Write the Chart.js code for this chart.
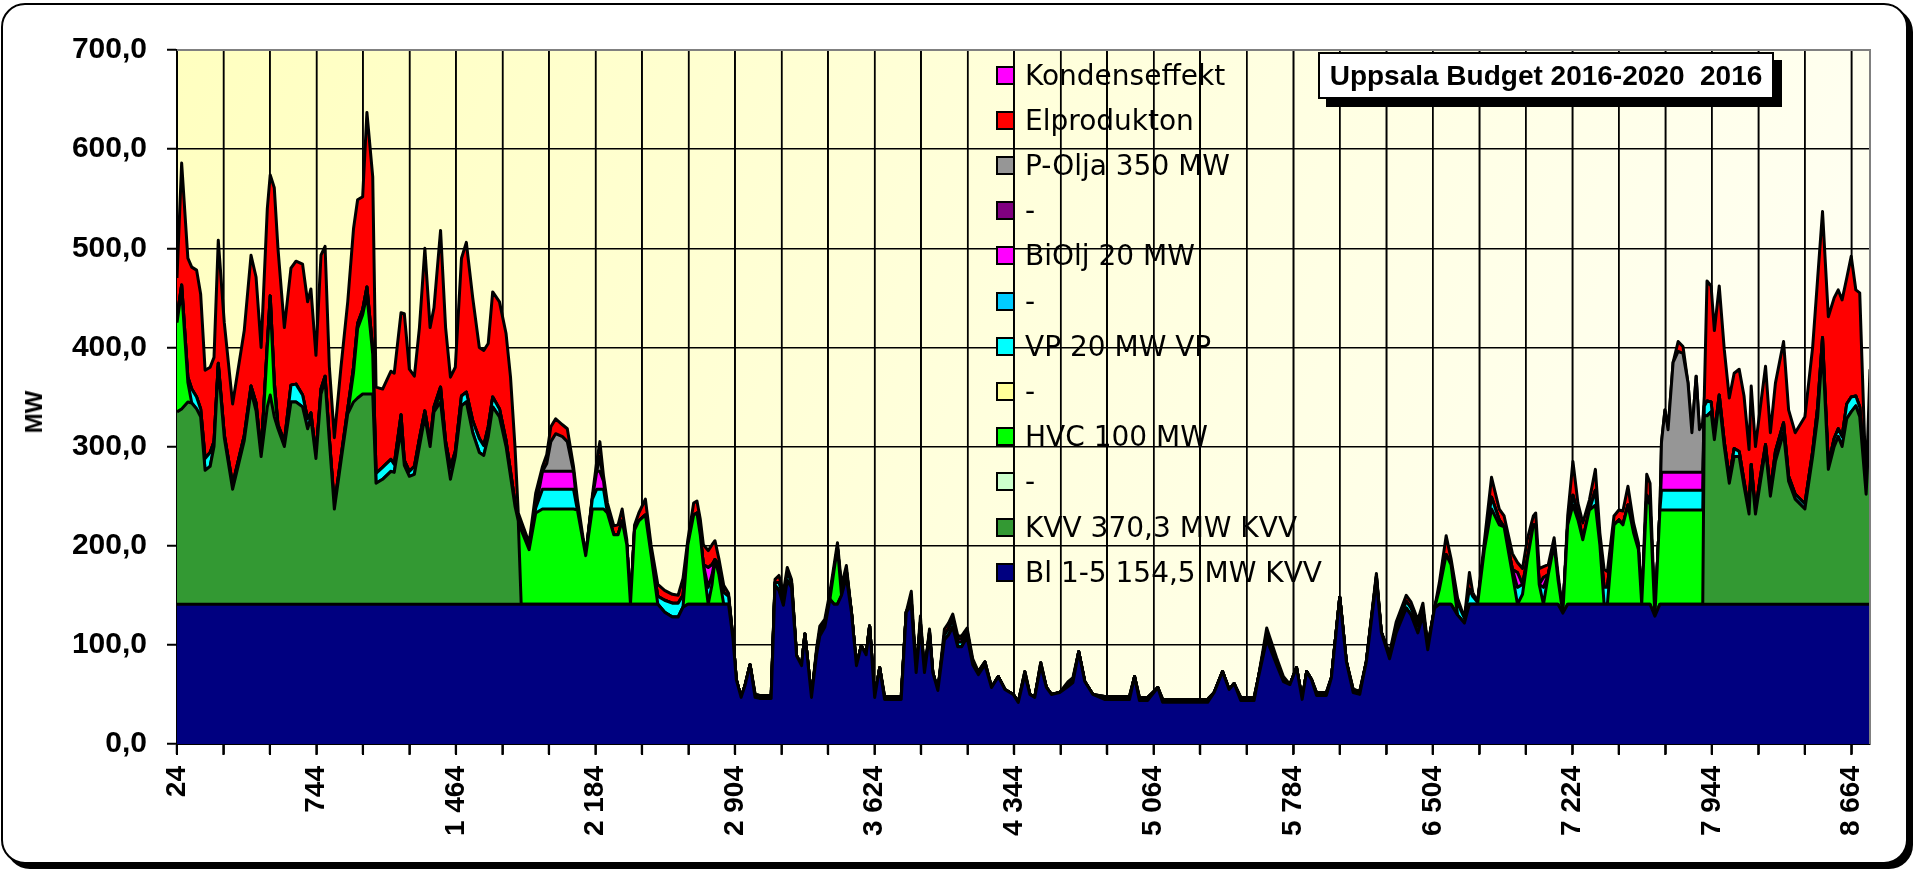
<!DOCTYPE html>
<html><head><meta charset="utf-8">
<script src="https://cdn.jsdelivr.net/npm/chart.js@4.4.1/dist/chart.umd.min.js"></script>
<style>
html,body{margin:0;padding:0;background:#fff;width:1915px;height:870px;overflow:hidden;}
#frame{position:absolute;left:1px;top:3px;width:1903px;height:857px;border:2px solid #000;border-radius:24px;box-shadow:5px 5px 0 #000;background:#fff;}
#c{position:absolute;left:0;top:0;}
#legend{position:absolute;left:996px;top:0;}
.li{position:absolute;left:0;display:flex;align-items:center;height:40px;white-space:nowrap;font:28px "DejaVu Sans";color:#000;}
.sw{display:inline-block;width:19px;height:19px;box-sizing:border-box;border:2px solid #000;margin-right:10px;}
#title{position:absolute;left:1318px;top:52px;width:456px;height:47px;box-sizing:border-box;border:2px solid #000;background:#fff;box-shadow:8px 8px 0 #000;font:bold 28px "Liberation Sans";text-align:center;line-height:43px;white-space:pre;color:#000;}
#ytitle{position:absolute;left:34px;top:412px;transform:translate(-50%,-50%) rotate(-90deg);font:bold 24px "Liberation Sans";color:#000;white-space:nowrap;}
</style></head>
<body>
<div id="frame"></div>
<canvas id="c" width="1915" height="870"></canvas>
<div id="legend"></div>
<div id="title">Uppsala Budget 2016-2020  2016</div>
<div id="ytitle">MW</div>
<script>
// ---- tick labels ----
const gridHours = [24,264,504,744,984,1224,1464,1704,1944,2184,2424,2664,2904,3144,3384,3624,3864,4104,4344,4584,4824,5064,5304,5544,5784,6024,6264,6504,6744,6984,7224,7464,7704,7944,8184,8424,8664];
const labelHours = [24,744,1464,2184,2904,3624,4344,5064,5784,6504,7224,7944,8664];
const yTicks = [0,100,200,300,400,500,600,700];

// ---- legend (top to bottom as in the reference) ----
const legendNames = ['Kondenseffekt','Elprodukton','P-Olja 350 MW','-','BiOlj 20 MW','-','VP 20 MW VP','-','HVC 100 MW','-','KVV 370,3 MW KVV','Bl 1-5 154,5 MW KVV'];
const legendColors = ['#FF00FF','#FF0000','#969696','#800080','#FF00FF','#00CCFF','#00FFFF','#FFFF99','#00FF00','#CCFFCC','#339933','#000080'];

// ---- hours (x positions of readings) ----
const hours = [24,48,80,100,125,146,169,195,215,237,
268,311,371,406,432,458,490,505,526,545,
578,612,638,672,698,715,741,767,788,810,
836,870,905,935,956,982,1004,1034,1051,1085,
1128,1145,1180,1197,1223,1249,1275,1303,1330,1350,
1384,1410,1435,1460,1492,1517,1550,1584,1607,1630,
1653,1688,1722,1745,1768,1785,1800,1841,1875,1910,
1932,1953,1978,2013,2038,2070,2090,2133,2167,2190,
2206,2225,2245,2278,2300,2321,2345,2364,2385,2407,
2441,2470,2505,2540,2580,2610,2635,2660,2690,2707,
2724,2740,2765,2785,2800,2820,2845,2870,2893,2910,
2935,2955,2981,3007,3030,3090,3110,3130,3153,3173,
3195,3221,3247,3264,3281,3298,3324,3341,3367,3393,
3415,3432,3453,3478,3504,3530,3555,3580,3598,3624,
3650,3675,3761,3787,3813,3838,3860,3881,3907,3924,
3950,3984,4005,4027,4053,4073,4101,4130,4159,4193,
4227,4262,4296,4339,4365,4399,4425,4450,4481,4510,
4536,4579,4622,4647,4677,4708,4750,4810,4939,4965,
4990,5033,5085,5110,5153,5342,5376,5419,5453,5479,
5513,5582,5604,5647,5664,5698,5733,5767,5801,5830,
5853,5878,5904,5955,5981,6024,6058,6093,6127,6161,
6213,6238,6281,6315,6367,6392,6427,6453,6478,6513,
6538,6573,6598,6632,6667,6693,6710,6735,6770,6807,
6847,6872,6915,6941,6967,6992,7023,7035,7053,7075,
7100,7130,7150,7175,7200,7227,7253,7278,7312,7343,
7366,7388,7405,7439,7464,7485,7511,7540,7565,7582,
7608,7625,7650,7676,7684,7702,7718,7744,7770,7795,
7821,7841,7863,7880,7897,7905,7919,7940,7957,7982,
8008,8034,8059,8085,8110,8136,8147,8169,8195,8221,
8246,8272,8314,8340,8374,8424,8464,8490,8515,8545,
8575,8596,8616,8640,8663,8687,8707,8740,8760];

// ---- series values (MW) ----
const blValues = [141,141,141,141,141,141,141,141,141,141,
141,141,141,141,141,141,141,141,141,141,
141,141,141,141,141,141,141,141,141,141,
141,141,141,141,141,141,141,141,141,141,
141,141,141,141,141,141,141,141,141,141,
141,141,141,141,141,141,141,141,141,141,
141,141,141,141,141,141,141,141,141,141,
141,141,141,141,141,141,141,141,141,141,
141,141,141,141,141,141,141,141,141,141,
141,141,141,133,128,128,138,141,141,141,
141,141,141,141,141,141,141,141,106,65,
47,59,80,47,46,46,160,155,140,165,
158,89,79,111,79,47,90,109,118,146,
141,141,150,168,133,79,99,90,119,47,
77,45,45,133,140,72,118,72,110,72,
54,105,110,118,98,98,108,80,70,80,
57,68,55,50,42,70,50,47,79,57,
50,52,58,62,93,63,50,45,45,68,
44,44,57,42,42,42,52,73,55,61,
44,44,67,105,97,80,63,60,77,45,
73,65,49,49,67,148,83,52,50,83,
165,113,86,112,137,130,112,130,95,137,
141,141,141,130,122,141,141,141,141,141,
141,141,141,141,141,141,141,141,141,141,
141,141,141,132,141,141,141,141,141,141,
141,141,141,141,141,141,141,141,141,141,
141,141,129,141,141,141,141,141,141,141,
141,141,141,141,141,141,141,141,141,141,
141,141,141,141,141,141,141,141,141,141,
141,141,141,141,141,141,141,141,141,141,
141,141,141,141,141,141,141,141,141];

const kvvValues = [194,197,204,203,197,189,135,139,159,240,
168,116,165,215,195,149,199,211,189,177,
159,204,204,199,177,188,147,212,226,165,
96,144,192,204,208,212,212,212,122,126,
134,133,176,140,129,131,159,189,159,194,
204,159,126,149,200,204,173,153,150,169,
199,189,159,129,99,84,0,0,0,0,
0,0,0,0,0,0,0,0,0,0,
0,0,0,0,0,0,0,0,0,0,
0,0,0,0,0,0,0,0,0,0,
0,0,0,0,0,0,0,0,0,0,
0,0,0,0,0,0,0,0,0,0,
0,0,0,0,0,0,0,0,0,0,
0,0,0,0,0,0,0,0,0,0,
0,0,0,0,0,0,0,0,0,0,
0,0,0,0,0,0,0,0,0,0,
0,0,0,0,0,0,0,0,0,0,
0,0,0,0,0,0,0,0,0,0,
0,0,0,0,0,0,0,0,0,0,
0,0,0,0,0,0,0,0,0,0,
0,0,0,0,0,0,0,0,0,0,
0,0,0,0,0,0,0,0,0,0,
0,0,0,0,0,0,0,0,0,0,
0,0,0,0,0,0,0,0,0,0,
0,0,0,0,0,0,0,0,0,0,
0,0,0,0,0,0,0,0,0,0,
0,0,0,0,0,0,0,0,0,0,
0,0,0,0,0,190,190,194,166,206,
159,122,149,149,119,91,136,91,124,156,
109,144,173,124,106,96,149,189,259,136,
159,169,159,187,194,200,189,111,189];

const hvcValues = [90,120,20,0,0,0,0,0,0,0,
0,0,0,0,0,0,60,95,30,0,
0,0,0,0,0,0,0,0,0,0,
0,0,0,30,70,80,100,40,0,0,
0,0,0,0,0,0,0,0,0,0,
10,0,0,0,0,0,0,0,0,0,
0,0,0,0,0,0,75,55,92,96,
96,96,96,96,96,96,95,49,96,96,
96,96,92,70,70,84,60,0,75,84,
90,50,0,0,0,0,0,60,90,92,
70,40,0,20,45,30,0,0,0,0,
0,0,0,0,0,0,0,0,0,0,
0,0,0,0,0,0,0,0,0,0,
35,57,0,0,0,0,0,0,0,0,
0,0,0,0,0,0,0,0,0,0,
0,0,0,0,0,0,0,0,0,0,
0,0,0,0,0,0,0,0,0,0,
0,0,0,0,0,0,0,0,0,0,
0,0,0,0,0,0,0,0,0,0,
0,0,0,0,0,0,0,0,0,0,
0,0,0,0,0,0,0,0,0,0,
0,0,0,0,0,0,0,0,0,0,
15,50,40,0,0,0,0,0,55,96,
80,78,30,0,10,45,80,80,20,0,
30,60,25,0,80,100,85,65,95,100,
60,0,0,80,85,80,100,72,55,0,
110,100,0,95,95,95,95,95,95,95,
95,95,95,95,95,0,0,0,0,0,
0,0,0,0,0,0,0,0,0,0,
0,0,0,0,0,0,0,0,0,0,
0,0,0,0,0,0,0,0,0];

const vpValues = [5,5,5,14,12,8,12,14,5,3,
3,5,5,5,8,3,3,5,5,4,
5,17,18,12,10,5,3,5,4,3,
3,4,5,5,5,5,8,5,10,12,
12,8,15,5,5,8,8,6,5,5,
5,5,12,5,10,10,12,14,10,10,
10,8,6,5,3,3,0,0,5,20,
20,20,20,20,20,20,0,0,10,20,
20,20,0,0,0,0,0,0,0,0,
0,0,8,12,14,14,12,0,0,0,
0,0,17,10,0,10,12,8,0,0,
0,0,0,0,0,0,3,8,8,8,
5,0,0,0,0,0,3,5,4,3,
0,0,5,7,0,0,0,0,0,0,
0,0,0,0,5,0,5,0,3,0,
0,5,6,7,5,5,3,0,0,0,
0,0,0,0,0,0,0,0,0,0,
0,0,0,0,0,0,0,0,0,0,
0,0,0,0,0,0,0,0,0,0,
0,0,0,6,4,0,0,0,0,0,
0,0,0,0,0,0,0,0,0,0,
4,0,3,5,7,7,7,6,3,0,
0,0,0,12,5,15,8,2,0,12,
5,0,5,17,10,0,0,0,0,17,
0,0,0,0,0,10,5,0,0,15,
0,17,17,0,0,0,0,0,0,0,
0,0,0,0,20,20,20,20,20,20,
20,20,20,20,20,10,15,10,5,5,
5,5,8,5,5,3,5,3,5,5,
5,10,10,5,5,5,5,10,10,5,
8,8,10,15,15,10,10,3,10];

const bioljValues = [0,0,0,0,0,0,0,0,0,0,
0,0,0,0,0,0,0,0,0,0,
0,0,0,0,0,0,0,0,0,0,
0,0,0,0,0,0,0,0,0,0,
0,0,0,0,0,0,0,0,0,0,
0,0,0,0,0,0,0,0,0,0,
0,0,0,0,0,0,0,0,0,18,
18,18,18,18,18,18,0,0,0,18,
18,8,0,0,0,0,0,0,0,0,
0,0,0,0,0,0,0,0,0,0,
0,0,20,10,0,0,0,0,0,0,
0,0,0,3,3,3,0,0,0,0,
0,0,0,0,0,0,0,0,0,0,
0,0,0,0,0,0,0,0,0,0,
0,3,3,0,0,0,0,0,0,0,
0,0,0,0,3,3,3,3,3,3,
0,0,0,0,0,3,0,0,3,0,
0,0,3,3,0,0,0,3,3,0,
3,3,0,3,3,3,0,0,0,0,
3,3,0,0,3,4,3,0,0,0,
0,0,3,3,0,0,0,3,3,0,
0,0,0,0,0,0,0,0,0,0,
0,0,0,0,0,0,0,0,0,0,
0,0,0,15,0,0,0,0,0,10,
0,0,0,0,0,0,0,0,0,0,
0,0,0,0,0,0,0,0,0,0,
0,0,0,0,18,18,18,18,18,18,
18,18,18,18,18,0,0,0,0,0,
0,0,0,0,0,0,0,0,0,0,
0,0,0,0,0,0,0,0,0,0,
0,0,0,0,0,0,0,0,0];

const poljaValues = [0,0,0,0,0,0,0,0,0,0,
0,0,0,0,0,0,0,0,0,0,
0,0,0,0,0,0,0,0,0,0,
0,0,0,0,0,0,0,0,0,0,
0,0,0,0,0,0,0,0,0,0,
0,0,0,0,0,0,0,0,0,0,
0,0,0,0,0,0,0,0,0,0,
8,30,38,35,30,0,0,0,0,0,
15,0,0,0,0,0,0,0,0,0,
0,0,0,0,0,0,0,0,0,0,
0,0,0,0,0,0,0,0,0,0,
0,0,0,0,0,0,0,0,0,0,
0,0,0,0,0,0,0,0,0,0,
0,0,0,0,0,0,0,0,0,0,
0,0,0,0,0,0,0,0,0,0,
0,0,0,0,0,0,0,0,0,0,
0,0,0,0,0,0,0,0,0,0,
0,0,0,0,0,0,0,0,0,0,
0,0,0,0,0,0,0,0,0,0,
0,0,0,0,0,0,0,0,0,0,
0,0,0,0,0,0,0,0,0,0,
0,0,0,0,0,0,0,0,0,0,
0,0,0,0,0,0,0,0,0,0,
0,0,0,0,0,0,0,0,0,0,
0,0,0,0,0,0,0,0,0,0,
0,0,0,0,0,0,0,0,0,0,
0,0,0,0,30,63,43,111,122,120,
90,40,97,43,50,0,0,0,0,0,
0,0,0,0,0,0,0,0,0,0,
0,0,0,0,0,0,0,0,0,0,
0,0,0,0,0,0,0,0,0];

const elValues = [40,123,120,123,128,116,89,86,85,124,
113,81,106,132,127,107,137,122,196,178,
115,118,124,132,118,125,101,135,131,72,
69,91,108,140,125,114,176,174,87,79,
89,92,103,148,103,91,112,164,115,100,
158,115,91,85,139,151,124,92,96,84,
106,108,108,95,57,5,9,7,15,5,
9,15,15,12,13,5,11,0,3,10,
15,5,10,9,10,12,5,0,5,8,
16,10,12,10,9,8,17,5,12,12,
16,20,17,20,19,6,7,3,0,0,
0,0,0,0,0,0,3,7,5,5,
3,0,0,0,0,0,3,5,4,4,
5,5,5,5,0,0,0,0,0,0,
0,0,0,0,9,0,6,0,3,0,
0,6,6,6,3,3,3,3,0,0,
0,0,0,0,0,0,0,0,0,0,
0,0,2,2,0,0,0,0,0,0,
0,0,0,0,0,0,0,0,0,0,
0,0,0,6,3,3,2,0,0,0,
0,0,0,0,0,0,0,0,0,0,
3,0,3,6,6,6,6,6,2,0,
7,19,6,5,0,17,4,0,8,20,
11,11,16,10,16,21,9,12,16,11,
10,7,6,0,9,34,12,17,10,21,
12,18,16,9,10,14,19,10,7,0,
21,22,0,0,0,0,0,0,10,7,
0,0,0,0,0,10,121,117,105,110,
93,81,76,83,86,62,79,65,71,79,
59,69,82,67,62,88,105,130,127,149,
142,140,138,127,142,107,115,5,38];

// stacking order bottom -> top: [values, legend index]
const stackSeries = [
  [blValues, 11], [kvvValues, 10], [hvcValues, 8], [vpValues, 6],
  [bioljValues, 4], [poljaValues, 2], [elValues, 1]
];
const emptySeries = [9, 7, 5, 3, 0]; // "-" series and Kondenseffekt: no visible values

const datasets = stackSeries.map(([vals, li], k) => ({
  label: legendNames[li],
  data: hours.map((h, i) => ({x: h, y: vals[i]})),
  backgroundColor: legendColors[li],
  borderColor: '#000',
  borderWidth: 3,
  borderJoinStyle: 'round',
  fill: k === 0 ? 'origin' : '-1',
  pointRadius: 0,
  tension: 0
}));
emptySeries.forEach(li => datasets.push({
  label: legendNames[li], data: [], backgroundColor: legendColors[li],
  borderColor: '#000', borderWidth: 3, fill: false, pointRadius: 0
}));

const fmtThousands = v => String(v).replace(/\B(?=(\d{3})+(?!\d))/g, ' ');

const bgPlugin = {
  id: 'bg',
  beforeDraw(chart) {
    const {ctx, chartArea: a} = chart;
    const g = ctx.createLinearGradient(a.left, a.top, a.right, a.bottom);
    g.addColorStop(0, '#FFFFC0');
    g.addColorStop(0.5, '#FFFFDE');
    g.addColorStop(1, '#FFFFF6');
    ctx.save();
    ctx.fillStyle = g;
    ctx.fillRect(a.left, a.top, a.right - a.left, a.bottom - a.top);
    ctx.restore();
  },
  beforeDatasetsDraw(chart) {
    // vertical grid lines every 240 h plus tick marks below the axis
    const {ctx, chartArea: a, scales: {x}} = chart;
    ctx.save();
    ctx.strokeStyle = '#000';
    ctx.lineWidth = 1.5;
    ctx.beginPath();
    gridHours.forEach(h => {
      const px = x.getPixelForValue(h);
      ctx.moveTo(px, a.top);
      ctx.lineTo(px, a.bottom + 11);
    });
    ctx.stroke();
    ctx.restore();
  },
  afterDraw(chart) {
    const {ctx, chartArea: a, scales: {x}} = chart;
    ctx.save();
    ctx.strokeStyle = '#000';
    ctx.lineWidth = 2;
    ctx.beginPath();
    gridHours.forEach(h => {
      const px = x.getPixelForValue(h);
      ctx.moveTo(px, a.bottom);
      ctx.lineTo(px, a.bottom + 11);
    });
    ctx.stroke();
    ctx.strokeStyle = '#808080';
    ctx.beginPath();
    ctx.moveTo(a.left, a.top); ctx.lineTo(a.right, a.top); ctx.lineTo(a.right, a.bottom);
    ctx.stroke();
    ctx.restore();
  }
};

new Chart(document.getElementById('c'), {
  type: 'line',
  data: {datasets},
  plugins: [bgPlugin],
  options: {
    responsive: false,
    devicePixelRatio: 1,
    animation: false,
    layout: {padding: {top: 50, right: 45, left: 0, bottom: 0}},
    plugins: {legend: {display: false}, tooltip: {enabled: false}, title: {display: false}},
    scales: {
      x: {
        type: 'linear', min: 24, max: 8760,
        afterBuildTicks(s) { s.ticks = gridHours.map(v => ({value: v})); },
        afterFit(s) { s.height = 126; },
        ticks: {
          autoSkip: false, minRotation: 90, maxRotation: 90, padding: 12, color: '#000',
          font: {family: 'Liberation Sans', size: 28, weight: 'bold'},
          callback: v => labelHours.includes(v) ? fmtThousands(v) : ''
        },
        grid: {color: '#000', lineWidth: 1.5, tickLength: 10, tickColor: '#000', tickWidth: 2},
        border: {color: '#000', width: 2}
      },
      y: {
        stacked: true, min: 0, max: 700,
        afterBuildTicks(s) { s.ticks = yTicks.map(v => ({value: v})); },
        afterFit(s) { s.width = 177; },
        ticks: {padding: 20, color: '#000', font: {family: 'Liberation Sans', size: 30, weight: 'bold'},
                callback: v => v.toFixed(1).replace('.', ',')},
        grid: {
          color: c => (c.tick && c.tick.value === 700) ? '#808080' : '#000',
          lineWidth: 1.5, tickLength: 10, tickColor: '#000', tickWidth: 2
        },
        border: {color: '#000', width: 2}
      }
    }
  }
});

// HTML legend
const lg = document.getElementById('legend');
legendNames.forEach((n, i) => {
  const d = document.createElement('div');
  d.className = 'li';
  d.style.top = (55 + 45.2 * i) + 'px';
  const sw = document.createElement('span');
  sw.className = 'sw';
  sw.style.background = legendColors[i];
  const t = document.createElement('span');
  t.textContent = n;
  d.appendChild(sw); d.appendChild(t);
  lg.appendChild(d);
});
</script>
</body></html>
